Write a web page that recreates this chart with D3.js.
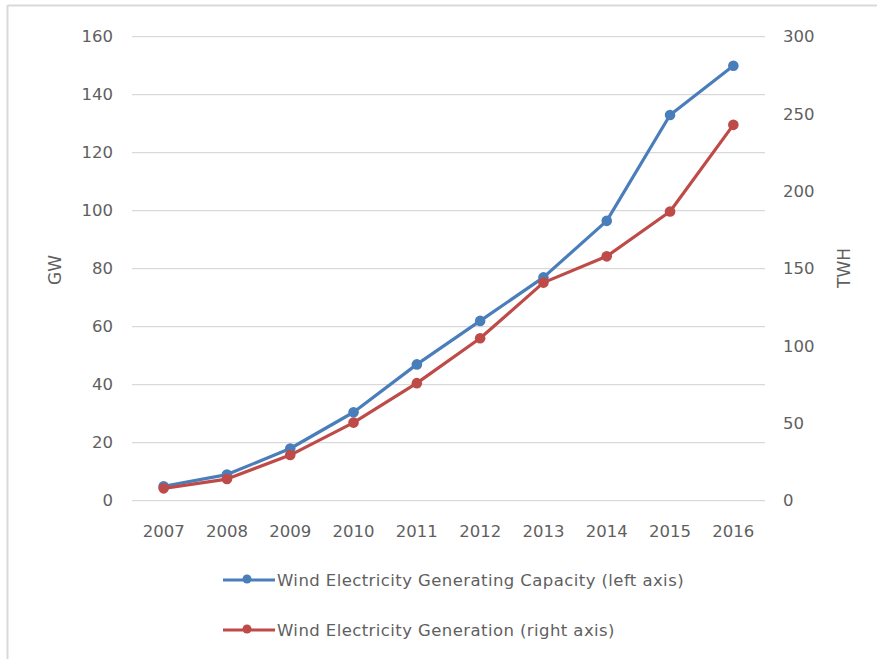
<!DOCTYPE html>
<html>
<head>
<meta charset="utf-8">
<script src="https://cdn.jsdelivr.net/npm/d3@7"></script>
<style>
  html, body { margin: 0; padding: 0; background: #fff; }
  svg { display: block; }
  text { font-family: "DejaVu Sans", sans-serif; fill: #5f5f5f; }
</style>
</head>
<body>
<svg id="chart" width="877" height="659"></svg>
<script>
// Wind electricity: installed capacity (GW, left axis) and generation (TWh, right axis)
const years = ["2007", "2008", "2009", "2010", "2011", "2012", "2013", "2014", "2015", "2016"];
const capacityGW = [5, 9, 18, 30.5, 47, 62, 77, 96.5, 133, 150];
const generationTWh = [8, 14, 29.5, 50.5, 76, 105, 141, 158, 187, 243];
const leftTicks = [0, 20, 40, 60, 80, 100, 120, 140, 160];
const rightTicks = [0, 50, 100, 150, 200, 250, 300];
const seriesNames = [
  "Wind Electricity Generating Capacity (left axis)",
  "Wind Electricity Generation (right axis)"
];
const colors = ["#4a7ebb", "#be4b48"];

const FONT = 16.5;
const svg = d3.select("#chart");
const plot = { left: 132, right: 765, top: 36.7, bottom: 500.7 };

// frame
svg.append("line").attr("x1", 7.5).attr("x2", 877).attr("y1", 5.5).attr("y2", 5.5)
  .attr("stroke", "#d9d9d9").attr("stroke-width", 2);
svg.append("line").attr("x1", 7.5).attr("x2", 7.5).attr("y1", 5).attr("y2", 659)
  .attr("stroke", "#d9d9d9").attr("stroke-width", 2);

const x = d3.scaleBand().domain(years).range([plot.left, plot.right]);
const yL = d3.scaleLinear().domain([0, 160]).range([plot.bottom, plot.top]);
const yR = d3.scaleLinear().domain([0, 300]).range([plot.bottom, plot.top]);

// gridlines
svg.append("g").selectAll("line").data(leftTicks).join("line")
  .attr("x1", plot.left).attr("x2", plot.right)
  .attr("y1", d => yL(d)).attr("y2", d => yL(d))
  .attr("stroke", "#d9d9d9").attr("stroke-width", 1.3);

function styleAxis(g) {
  g.select(".domain").remove();
  g.selectAll("text").attr("font-size", FONT).attr("font-family", null).attr("fill", "#5f5f5f");
}

// left axis labels
svg.append("g").attr("transform", `translate(${plot.left - 19},0)`)
  .call(d3.axisLeft(yL).tickValues(leftTicks).tickSize(0).tickPadding(0))
  .call(styleAxis);

// right axis labels
svg.append("g").attr("transform", `translate(${plot.right + 18},0)`)
  .call(d3.axisRight(yR).tickValues(rightTicks).tickSize(0).tickPadding(0))
  .call(styleAxis);

// x axis labels
svg.append("g").attr("transform", `translate(0,${plot.bottom + 25})`)
  .call(d3.axisBottom(x).tickSize(0).tickPadding(0))
  .call(styleAxis);

// axis titles
svg.append("text").attr("transform", "translate(61,270) rotate(-90)")
  .attr("text-anchor", "middle").attr("font-size", FONT + 0.5).text("GW");
svg.append("text").attr("transform", "translate(850,268) rotate(-90)")
  .attr("text-anchor", "middle").attr("font-size", FONT + 0.5).text("TWH");

// series
const cx = d => x(d) + x.bandwidth() / 2;
const series = [
  { values: capacityGW, y: yL, color: colors[0] },
  { values: generationTWh, y: yR, color: colors[1] }
];
series.forEach(s => {
  const pts = years.map((yr, i) => [cx(yr), s.y(s.values[i])]);
  svg.append("path").datum(pts)
    .attr("d", d3.line())
    .attr("fill", "none").attr("stroke", s.color)
    .attr("stroke-width", 3.2).attr("stroke-linejoin", "round");
  svg.append("g").selectAll("circle").data(pts).join("circle")
    .attr("cx", d => d[0]).attr("cy", d => d[1]).attr("r", 5.3)
    .attr("fill", s.color);
});

// legend
const legend = svg.append("g");
seriesNames.forEach((name, i) => {
  const ly = 580 + i * 50;
  legend.append("line").attr("x1", 223).attr("x2", 275).attr("y1", ly).attr("y2", ly)
    .attr("stroke", colors[i]).attr("stroke-width", 3.2);
  legend.append("circle").attr("cx", 247).attr("cy", ly - 1).attr("r", 4.5).attr("fill", colors[i]);
  legend.append("text").attr("x", 277).attr("y", ly + 6).attr("font-size", FONT)
    .attr("letter-spacing", 0.42).text(name);
});
</script>
</body>
</html>
